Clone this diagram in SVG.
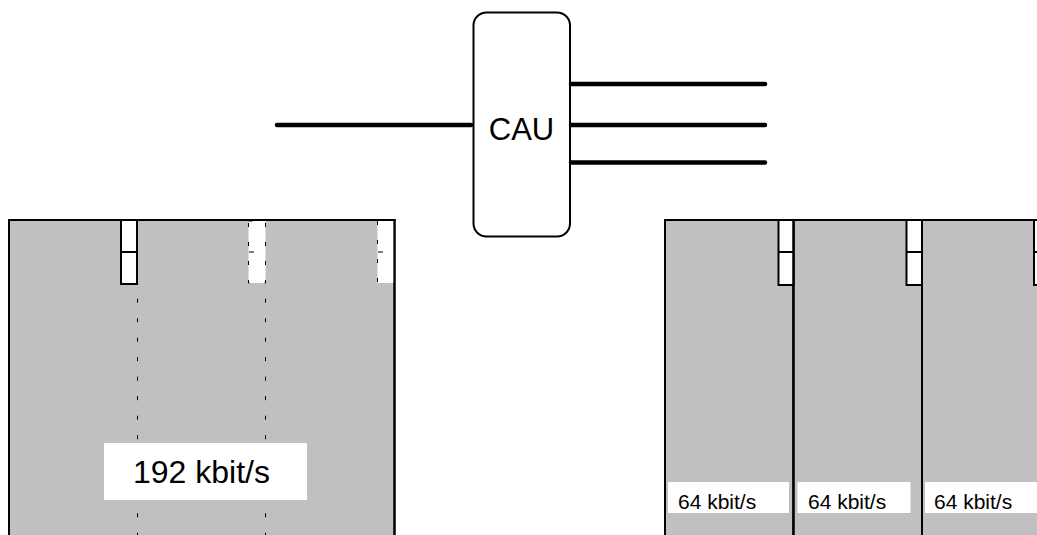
<svg xmlns="http://www.w3.org/2000/svg" width="1037" height="535" viewBox="0 0 1037 535">
<style>
.panel{fill:#c0c0c0;stroke:#000;stroke-width:2}
.slot{fill:#fff;stroke:#000;stroke-width:2}
.dslot{fill:#fff;stroke:#000;stroke-width:1;stroke-dasharray:4 15}
.dline{stroke:#000;stroke-width:1;stroke-dasharray:4 15.5;fill:none}
.lbl{fill:#fff}
.t{font-family:"Liberation Sans",Arial,sans-serif;fill:#000}
.wire{stroke:#000;stroke-width:4.5;stroke-linecap:round;fill:none}
</style>
<rect width="1037" height="535" fill="#fff"/>
<g id="cau">
<rect x="473.5" y="12.5" width="96.5" height="224" rx="13" ry="13" fill="#fff" stroke="#000" stroke-width="2"/>
<text class="t" x="521.5" y="140" font-size="31" text-anchor="middle">CAU</text>
</g>
<g id="connectors">
<line class="wire" x1="277" y1="125" x2="471" y2="125"/>
<line class="wire" x1="571" y1="84" x2="765" y2="84"/>
<line class="wire" x1="571" y1="125" x2="765" y2="125"/>
<line class="wire" x1="571" y1="162.5" x2="765" y2="162.5"/>
</g>
<g id="left-frame">
<rect class="panel" x="9" y="220" width="385.5" height="330"/>
<line class="dline" x1="137.5" y1="298.7" x2="137.5" y2="540"/>
<line class="dline" x1="265.5" y1="298.7" x2="265.5" y2="540"/>
<rect class="slot" x="121" y="220" width="16" height="64"/>
<line x1="121" y1="252" x2="137" y2="252" stroke="#000" stroke-width="2"/>
<rect class="dslot" x="248.5" y="221" width="17" height="62"/>
<line x1="249" y1="252" x2="254" y2="252" stroke="#000" stroke-width="1"/>
<rect x="377.5" y="221" width="16" height="62" fill="#fff"/>
<line x1="377.5" y1="221" x2="377.5" y2="283" class="dline" style="stroke-dasharray:4 15"/>
<line x1="378" y1="252" x2="383" y2="252" stroke="#000" stroke-width="1"/>
<line x1="394.5" y1="219" x2="394.5" y2="540" stroke="#000" stroke-width="2"/>
<line x1="8" y1="220" x2="395.5" y2="220" stroke="#000" stroke-width="2"/>
<rect class="lbl" x="104" y="443" width="203" height="57"/>
<text class="t" x="133" y="483" font-size="32">192 kbit/s</text>
</g>
<g id="right-frame">
<rect class="panel" x="665" y="220" width="128.5" height="330"/>
<rect class="panel" x="793.5" y="220" width="128.5" height="330"/>
<rect class="panel" x="922" y="220" width="128.5" height="330"/>
<rect class="slot" x="778.5" y="220" width="15" height="65"/>
<line x1="778.5" y1="252" x2="793.5" y2="252" stroke="#000" stroke-width="2"/>
<rect class="slot" x="906.5" y="220" width="15.5" height="65"/>
<line x1="906.5" y1="252" x2="922" y2="252" stroke="#000" stroke-width="2"/>
<rect class="slot" x="1034" y="220" width="16" height="65"/>
<line x1="1034" y1="252" x2="1050" y2="252" stroke="#000" stroke-width="2"/>
<line x1="793.5" y1="220" x2="793.5" y2="540" stroke="#000" stroke-width="2"/>
<line x1="922" y1="220" x2="922" y2="540" stroke="#000" stroke-width="2"/>
<rect class="lbl" x="668" y="482" width="121" height="31"/>
<rect class="lbl" x="797.5" y="482" width="113" height="31"/>
<rect class="lbl" x="925" y="482" width="115" height="31"/>
<text class="t" x="678" y="509" font-size="21">64 kbit/s</text>
<text class="t" x="808" y="509" font-size="21">64 kbit/s</text>
<text class="t" x="934" y="509" font-size="21">64 kbit/s</text>
</g>
</svg>
